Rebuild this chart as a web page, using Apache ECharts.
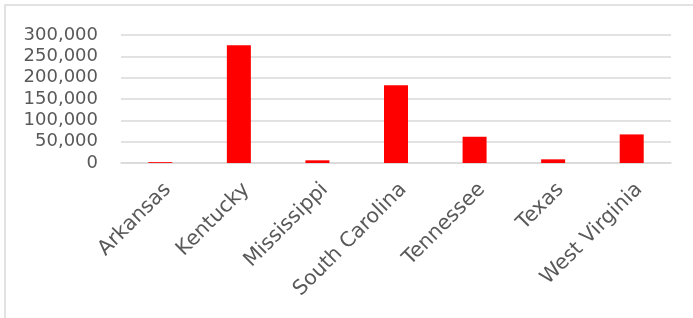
<!DOCTYPE html>
<html>
<head>
<meta charset="utf-8">
<script src="https://cdn.jsdelivr.net/npm/echarts@6/dist/echarts.min.js"></script>
<style>
  html, body { margin: 0; padding: 0; background: #fff; }
  #chart { width: 693px; height: 318px; }
</style>
</head>
<body>
<div id="chart"></div>
<script>
// states and values
var states = ['Arkansas', 'Kentucky', 'Mississippi', 'South Carolina', 'Tennessee', 'Texas', 'West Virginia'];
var values = [2000, 276000, 6300, 182000, 61500, 8600, 67000];
// y axis ticks
var yMin = 0, yMax = 300000, yStep = 50000;

var chart = echarts.init(document.getElementById('chart'));
var font = 'DejaVu Sans, sans-serif';

chart.setOption({
  animation: false,
  // outer frame, clipped at right and bottom like the original
  graphic: [{
    type: 'rect',
    shape: { x: 5, y: 5, width: 800, height: 400 },
    style: { fill: 'none', stroke: '#d9d9d9', lineWidth: 1.5 }
  }],
  grid: { left: 121, right: 22, top: 35, bottom: 155 },
  xAxis: {
    type: 'category',
    data: states,
    axisLine: { lineStyle: { color: '#d9d9d9', width: 1.5 } },
    axisTick: { show: false },
    axisLabel: {
      rotate: 45,
      interval: 0,
      margin: 16,
      verticalAlign: 'top',
      color: '#595959',
      fontSize: 20.5,
      fontFamily: font
    }
  },
  yAxis: {
    type: 'value',
    min: yMin,
    max: yMax,
    interval: yStep,
    axisLine: { show: false },
    axisTick: { show: false },
    splitLine: { lineStyle: { color: '#d9d9d9', width: 1.5 } },
    axisLabel: {
      margin: 23,
      color: '#595959',
      fontSize: 18,
      fontFamily: font,
      formatter: function (v) { return v.toLocaleString('en-US'); }
    }
  },
  series: [{
    type: 'bar',
    data: values,
    barWidth: 24,
    itemStyle: { color: '#ff0000' }
  }]
});
</script>
</body>
</html>
